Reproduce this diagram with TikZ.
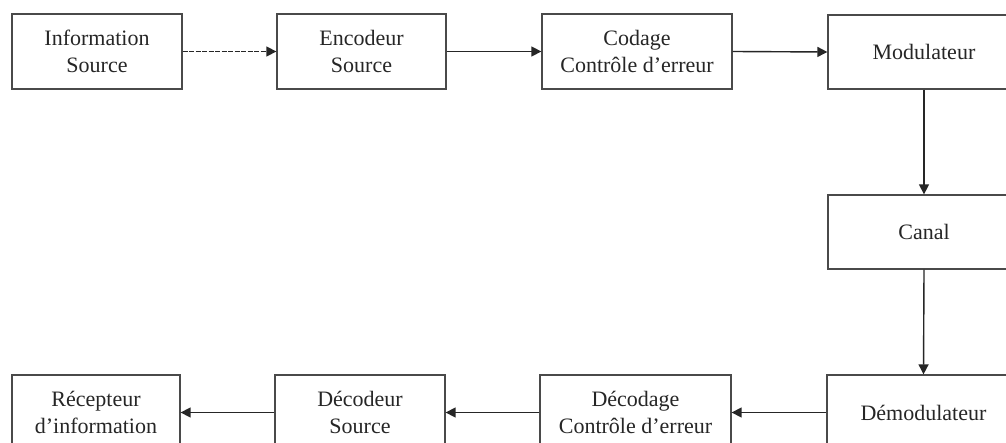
\documentclass[tikz,border=0pt]{standalone}
\usepackage{fontspec}
\setmainfont{Liberation Serif}
\usetikzlibrary{arrows.meta}
\definecolor{ink}{HTML}{262626}
\definecolor{edge}{HTML}{4A4A4A}
\begin{document}
\begin{tikzpicture}[x=1pt,y=-1pt,
  block/.style={draw=edge, line width=1.3pt, rectangle, minimum height=75pt,
    align=center, text=ink, inner sep=0pt,
    font=\fontsize{22}{26.5}\selectfont},
  flow/.style={draw=ink, line width=1.4pt, -{Triangle[length=10pt,width=10pt]}},
  dotflow/.style={flow, dash pattern=on 5pt off 1.5pt}]
\useasboundingbox (0,0) rectangle (1006,443);
\clip (0,0) rectangle (1006,443);
\fill[white] (0,0) rectangle (1006,443);
% transmitter chain
\node[block, minimum width=170pt] (src) at (97,51.5) {Information\\Source};
\node[block, minimum width=169pt] (enc) at (361.5,51.5) {Encodeur\\Source};
\node[block, minimum width=190pt] (cod) at (637,51.5) {Codage\\Contrôle d’erreur};
\node[block, minimum width=192pt, minimum height=74pt] (mod) at (924,52) {Modulateur};
% channel
\node[block, minimum width=192pt, minimum height=74pt] (can) at (924,232) {Canal};
% receiver chain
\node[block, minimum width=193pt] (dem) at (923.5,412.5) {Démodulateur};
\node[block, minimum width=191pt] (dcg) at (635.5,412.5) {Décodage\\Contrôle d’erreur};
\node[block, minimum width=170pt] (dcd) at (360,412.5) {Décodeur\\Source};
\node[block, minimum width=168pt] (rec) at (96,412.5) {Récepteur\\d’information};
% connectors
\draw[dotflow] (src.east) -- (enc.west);
\draw[flow] (enc.east) -- (cod.west);
\draw[flow] (cod.east) -- (mod.west);
\draw[flow] (mod.south) -- (can.north);
\draw[flow] (can.south) -- (dem.north);
\draw[flow] (dem.west) -- (dcg.east);
\draw[flow] (dcg.west) -- (dcd.east);
\draw[flow] (dcd.west) -- (rec.east);
\end{tikzpicture}
\end{document}
